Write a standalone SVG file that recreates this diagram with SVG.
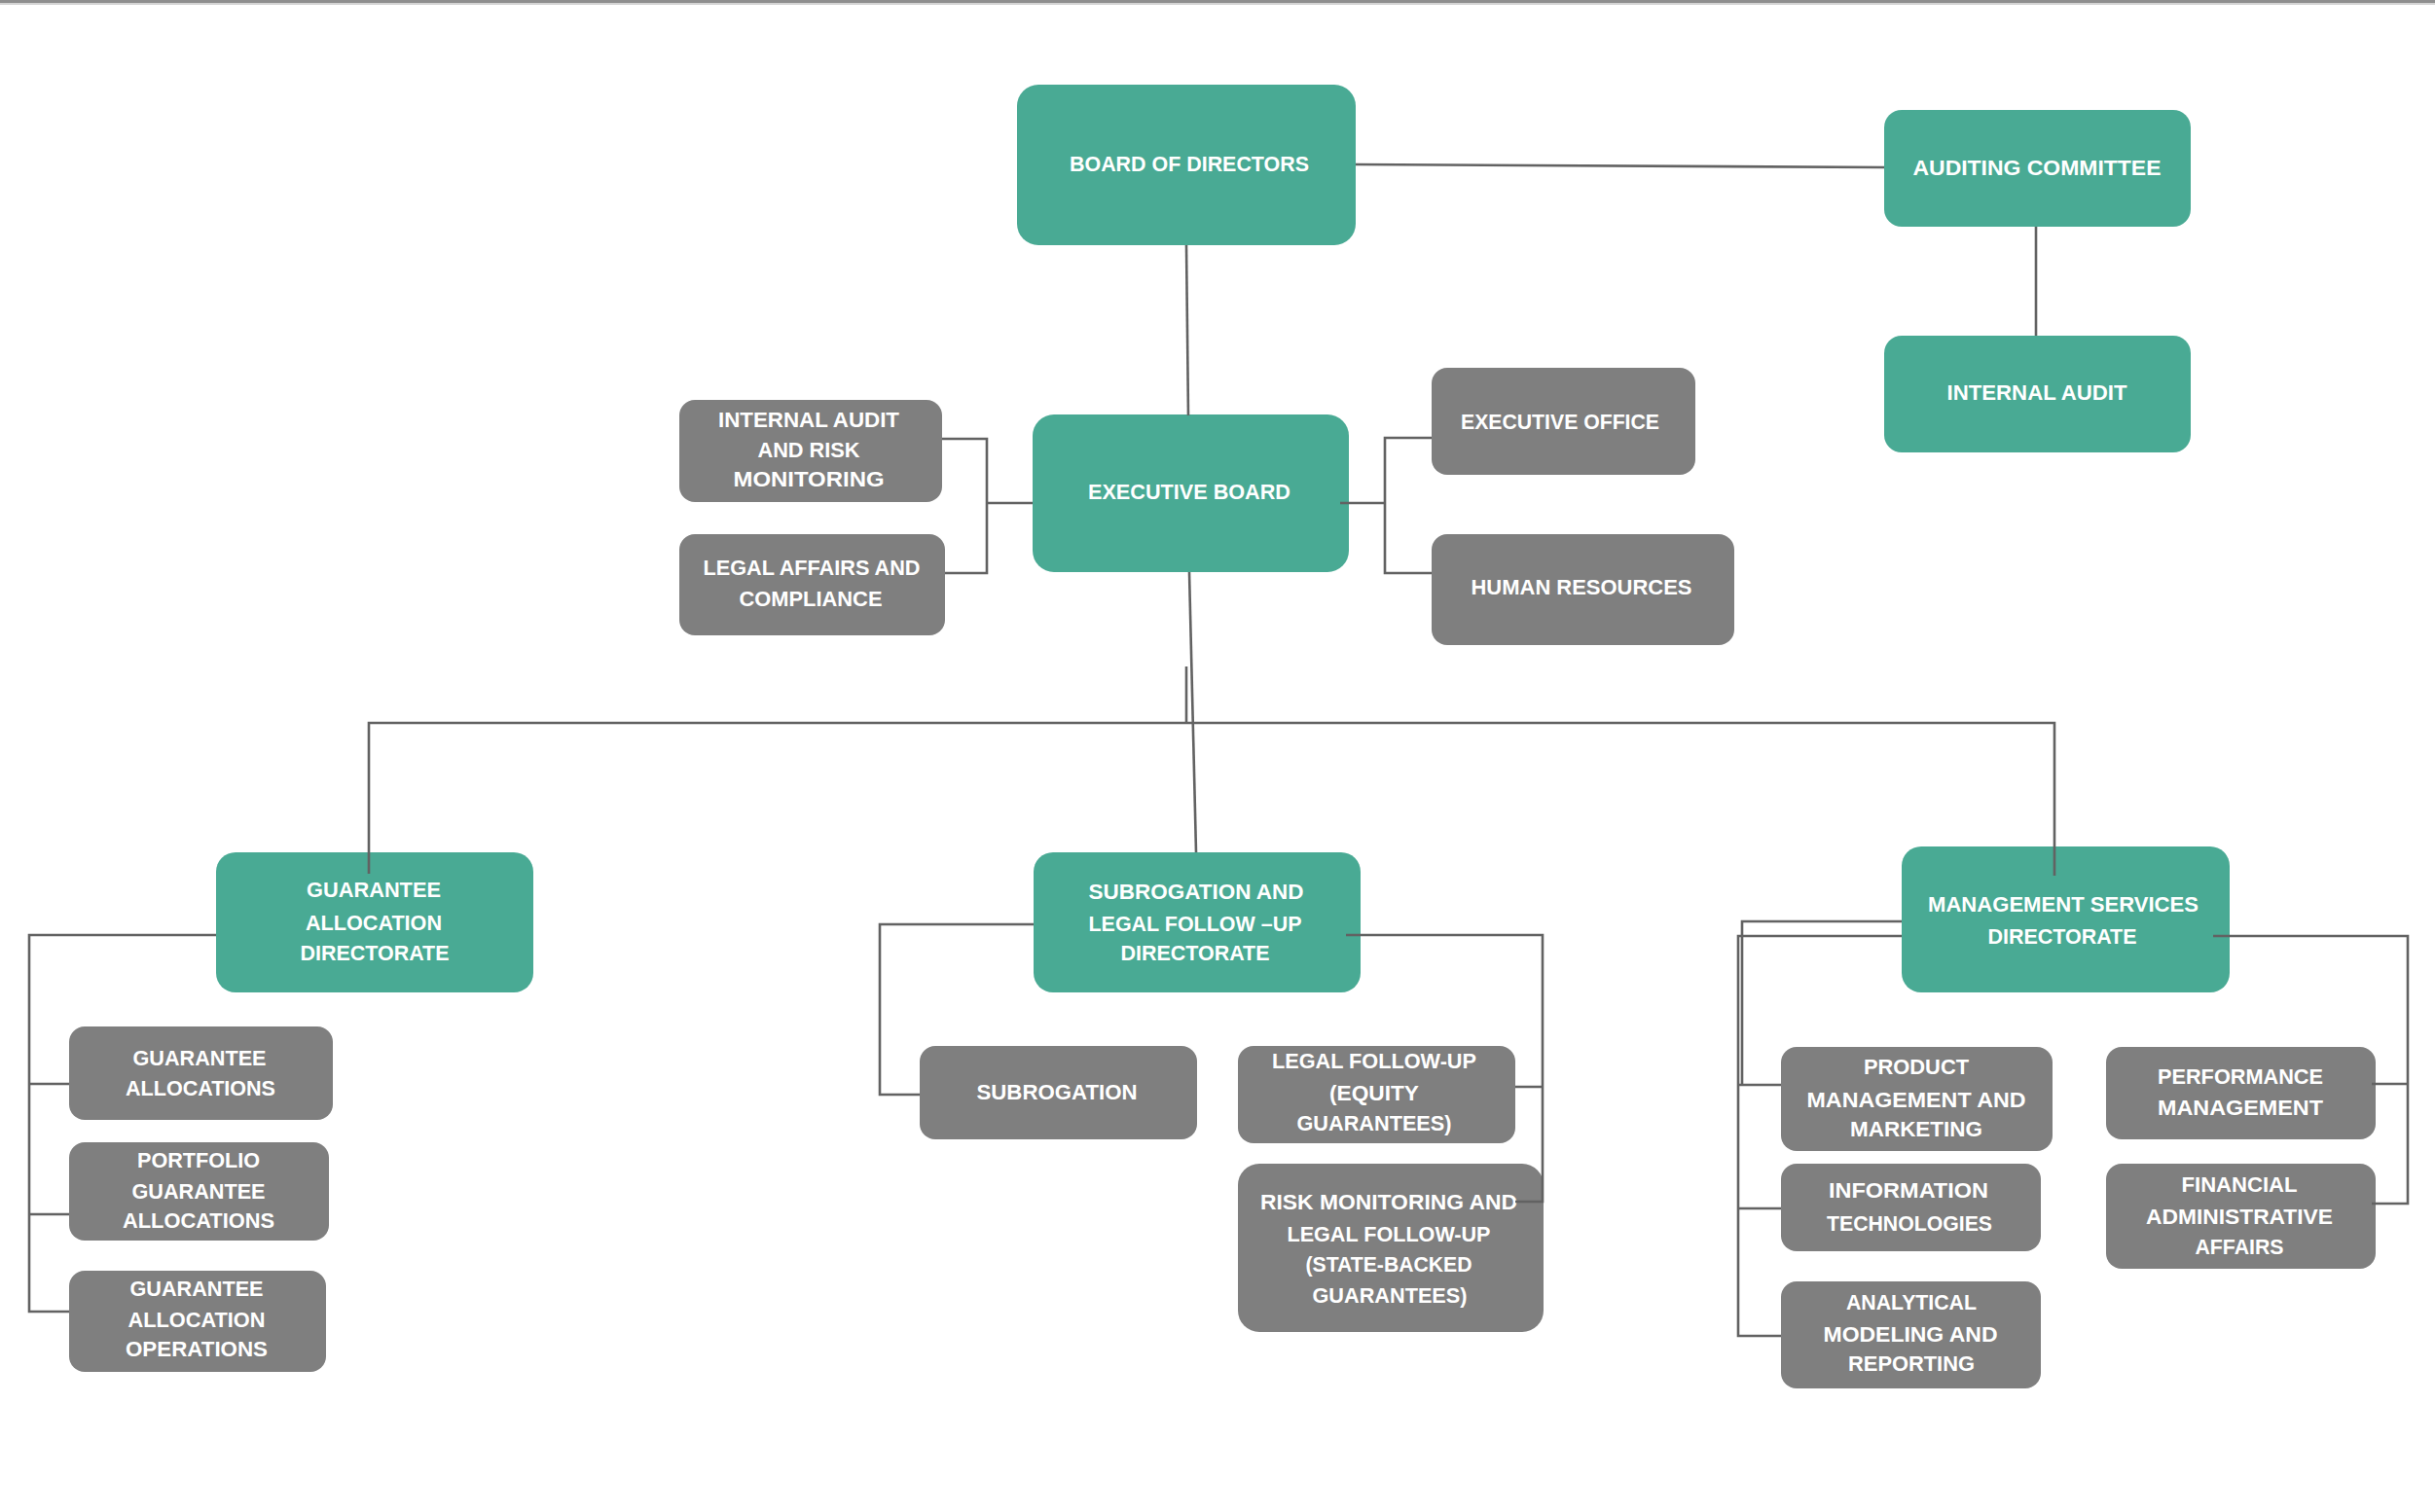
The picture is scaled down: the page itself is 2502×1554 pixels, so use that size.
<svg xmlns="http://www.w3.org/2000/svg" width="2502" height="1554" viewBox="0 0 2502 1554">
<style>
.t rect{fill:#49aa94}
.g rect{fill:#7f7f7f}
text{fill:#ffffff;font-family:"Liberation Sans",Arial,sans-serif;font-weight:bold;font-size:22px;text-anchor:middle}
.c path{fill:none;stroke:#626262;stroke-width:2.6}
</style>
<rect x="0" y="0" width="2502" height="3" fill="#8e8e8e"/>
<rect x="0" y="3" width="2502" height="2" fill="#d4d4d4"/>
<g id="n-bod" class="t"><rect x="1045" y="87" width="348" height="165" rx="22"/><text x="1222" y="176" textLength="246" lengthAdjust="spacingAndGlyphs">BOARD OF DIRECTORS</text></g>
<g id="n-ac" class="t"><rect x="1936" y="113" width="315" height="120" rx="18"/><text x="2093" y="180" textLength="255" lengthAdjust="spacingAndGlyphs">AUDITING COMMITTEE</text></g>
<g id="n-ia" class="t"><rect x="1936" y="345" width="315" height="120" rx="18"/><text x="2093" y="411" textLength="185" lengthAdjust="spacingAndGlyphs">INTERNAL AUDIT</text></g>
<g id="n-eb" class="t"><rect x="1061" y="426" width="325" height="162" rx="22"/><text x="1222" y="513" textLength="208" lengthAdjust="spacingAndGlyphs">EXECUTIVE BOARD</text></g>
<g id="n-iarm" class="g"><rect x="698" y="411" width="270" height="105" rx="16"/><text x="831" y="439" textLength="186" lengthAdjust="spacingAndGlyphs">INTERNAL AUDIT</text><text x="831" y="470" textLength="105" lengthAdjust="spacingAndGlyphs">AND RISK</text><text x="831" y="500" textLength="155" lengthAdjust="spacingAndGlyphs">MONITORING</text></g>
<g id="n-lac" class="g"><rect x="698" y="549" width="273" height="104" rx="16"/><text x="834" y="591" textLength="223" lengthAdjust="spacingAndGlyphs">LEGAL AFFAIRS AND</text><text x="833" y="623" textLength="147" lengthAdjust="spacingAndGlyphs">COMPLIANCE</text></g>
<g id="n-eo" class="g"><rect x="1471" y="378" width="271" height="110" rx="16"/><text x="1603" y="441" textLength="204" lengthAdjust="spacingAndGlyphs">EXECUTIVE OFFICE</text></g>
<g id="n-hr" class="g"><rect x="1471" y="549" width="311" height="114" rx="16"/><text x="1625" y="611" textLength="227" lengthAdjust="spacingAndGlyphs">HUMAN RESOURCES</text></g>
<g id="n-gad" class="t"><rect x="222" y="876" width="326" height="144" rx="20"/><text x="384" y="922" textLength="138" lengthAdjust="spacingAndGlyphs">GUARANTEE</text><text x="384" y="956" textLength="140" lengthAdjust="spacingAndGlyphs">ALLOCATION</text><text x="385" y="987" textLength="153" lengthAdjust="spacingAndGlyphs">DIRECTORATE</text></g>
<g id="n-ga" class="g"><rect x="71" y="1055" width="271" height="96" rx="16"/><text x="205" y="1095" textLength="137" lengthAdjust="spacingAndGlyphs">GUARANTEE</text><text x="206" y="1126" textLength="154" lengthAdjust="spacingAndGlyphs">ALLOCATIONS</text></g>
<g id="n-pga" class="g"><rect x="71" y="1174" width="267" height="101" rx="16"/><text x="204" y="1200" textLength="126" lengthAdjust="spacingAndGlyphs">PORTFOLIO</text><text x="204" y="1232" textLength="137" lengthAdjust="spacingAndGlyphs">GUARANTEE</text><text x="204" y="1262" textLength="156" lengthAdjust="spacingAndGlyphs">ALLOCATIONS</text></g>
<g id="n-gao" class="g"><rect x="71" y="1306" width="264" height="104" rx="16"/><text x="202" y="1332" textLength="137" lengthAdjust="spacingAndGlyphs">GUARANTEE</text><text x="202" y="1364" textLength="141" lengthAdjust="spacingAndGlyphs">ALLOCATION</text><text x="202" y="1394" textLength="146" lengthAdjust="spacingAndGlyphs">OPERATIONS</text></g>
<g id="n-slf" class="t"><rect x="1062" y="876" width="336" height="144" rx="20"/><text x="1229" y="924" textLength="221" lengthAdjust="spacingAndGlyphs">SUBROGATION AND</text><text x="1228" y="957" textLength="219" lengthAdjust="spacingAndGlyphs">LEGAL FOLLOW –UP</text><text x="1228" y="987" textLength="153" lengthAdjust="spacingAndGlyphs">DIRECTORATE</text></g>
<g id="n-sub" class="g"><rect x="945" y="1075" width="285" height="96" rx="16"/><text x="1086" y="1130" textLength="165" lengthAdjust="spacingAndGlyphs">SUBROGATION</text></g>
<g id="n-lfe" class="g"><rect x="1272" y="1075" width="285" height="100" rx="16"/><text x="1412" y="1098" textLength="210" lengthAdjust="spacingAndGlyphs">LEGAL FOLLOW-UP</text><text x="1412" y="1131" textLength="92" lengthAdjust="spacingAndGlyphs">(EQUITY</text><text x="1412" y="1162" textLength="159" lengthAdjust="spacingAndGlyphs">GUARANTEES)</text></g>
<g id="n-rm" class="g"><rect x="1272" y="1196" width="314" height="173" rx="22"/><text x="1427" y="1243" textLength="264" lengthAdjust="spacingAndGlyphs">RISK MONITORING AND</text><text x="1427" y="1276" textLength="209" lengthAdjust="spacingAndGlyphs">LEGAL FOLLOW-UP</text><text x="1427" y="1307" textLength="171" lengthAdjust="spacingAndGlyphs">(STATE-BACKED</text><text x="1428" y="1339" textLength="159" lengthAdjust="spacingAndGlyphs">GUARANTEES)</text></g>
<g id="n-msd" class="t"><rect x="1954" y="870" width="337" height="150" rx="20"/><text x="2120" y="937" textLength="278" lengthAdjust="spacingAndGlyphs">MANAGEMENT SERVICES</text><text x="2119" y="970" textLength="153" lengthAdjust="spacingAndGlyphs">DIRECTORATE</text></g>
<g id="n-pmm" class="g"><rect x="1830" y="1076" width="279" height="107" rx="16"/><text x="1969" y="1104" textLength="108" lengthAdjust="spacingAndGlyphs">PRODUCT</text><text x="1969" y="1138" textLength="225" lengthAdjust="spacingAndGlyphs">MANAGEMENT AND</text><text x="1969" y="1168" textLength="136" lengthAdjust="spacingAndGlyphs">MARKETING</text></g>
<g id="n-it" class="g"><rect x="1830" y="1196" width="267" height="90" rx="16"/><text x="1961" y="1231" textLength="164" lengthAdjust="spacingAndGlyphs">INFORMATION</text><text x="1962" y="1265" textLength="170" lengthAdjust="spacingAndGlyphs">TECHNOLOGIES</text></g>
<g id="n-amr" class="g"><rect x="1830" y="1317" width="267" height="110" rx="16"/><text x="1964" y="1346" textLength="134" lengthAdjust="spacingAndGlyphs">ANALYTICAL</text><text x="1963" y="1379" textLength="179" lengthAdjust="spacingAndGlyphs">MODELING AND</text><text x="1964" y="1409" textLength="130" lengthAdjust="spacingAndGlyphs">REPORTING</text></g>
<g id="n-pm" class="g"><rect x="2164" y="1076" width="277" height="95" rx="16"/><text x="2302" y="1114" textLength="170" lengthAdjust="spacingAndGlyphs">PERFORMANCE</text><text x="2302" y="1146" textLength="170" lengthAdjust="spacingAndGlyphs">MANAGEMENT</text></g>
<g id="n-faa" class="g"><rect x="2164" y="1196" width="277" height="108" rx="16"/><text x="2301" y="1225" textLength="119" lengthAdjust="spacingAndGlyphs">FINANCIAL</text><text x="2301" y="1258" textLength="192" lengthAdjust="spacingAndGlyphs">ADMINISTRATIVE</text><text x="2301" y="1289" textLength="91" lengthAdjust="spacingAndGlyphs">AFFAIRS</text></g>
<g id="connectors" class="c">
<path d="M1393 169 L1936 172"/>
<path d="M2092 233 V345"/>
<path d="M1219 252 L1221 427"/>
<path d="M968 451 H1014 V589 H971 M1014 517 H1061"/>
<path d="M1377 517 H1423 M1471 450 H1423 V589 H1471"/>
<path d="M1222 588 L1229 876"/>
<path d="M1219 685 V743"/>
<path d="M379 898 V743 H2111 V900"/>
<path d="M222 961 H30 V1348 H71 M30 1114 H71 M30 1248 H71"/>
<path d="M1062 950 H904 V1125 H945"/>
<path d="M1383 961 H1585 V1235 H1557 M1585 1117 H1557"/>
<path d="M1954 947 H1790 V1115"/>
<path d="M1954 962 H1786 V1373 H1830 M1786 1115 H1830 M1786 1242 H1830"/>
<path d="M2274 962 H2474 V1237 H2437 M2474 1114 H2437"/>
</g>
</svg>
